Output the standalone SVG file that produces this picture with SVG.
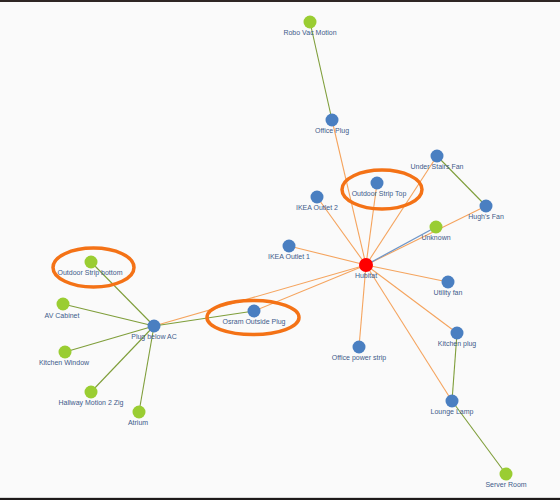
<svg xmlns="http://www.w3.org/2000/svg" width="560" height="500" viewBox="0 0 560 500">
<style>
.n circle{stroke:none}
.b{fill:#4a7fc1}
.g{fill:#9acd32}
.r{fill:#ff0000}
text{font-family:"Liberation Sans",Arial,sans-serif;font-size:7px;fill:#3e5a8a;text-anchor:middle}
.eo{stroke:#f5a45e;stroke-width:1.1;fill:none}
.eg{stroke:#7f9e3a;stroke-width:1.1;fill:none}
.eb{stroke:#6f96c8;stroke-width:1.3;fill:none}
.hl{fill:none;stroke:#f47216;stroke-width:3.5}
</style>
<rect x="0" y="0" width="560" height="500" fill="#fafafa"/>
<rect x="0" y="0" width="560" height="2" fill="#2e2624"/>
<rect x="0" y="497" width="560" height="1" fill="#d8d8d8"/>
<rect x="0" y="498" width="560" height="2" fill="#1e1a1a"/>
<g id="connectors">
<line class="eo" x1="366" y1="265" x2="332" y2="120"/>
<line class="eo" x1="366" y1="265" x2="377" y2="183"/>
<line class="eo" x1="366" y1="265" x2="317" y2="197"/>
<line class="eo" x1="366" y1="265" x2="437" y2="156"/>
<line class="eo" x1="366" y1="265" x2="486" y2="206"/>
<line class="eo" x1="366" y1="265" x2="289" y2="246"/>
<line class="eo" x1="366" y1="265" x2="448" y2="282"/>
<line class="eo" x1="366" y1="265" x2="457" y2="333"/>
<line class="eo" x1="366" y1="265" x2="452" y2="401"/>
<line class="eo" x1="366" y1="265" x2="359" y2="347"/>
<line class="eo" x1="366" y1="265" x2="154" y2="326"/>
<line class="eo" x1="366" y1="265" x2="254" y2="311"/>
<line class="eb" x1="366" y1="265" x2="436" y2="227"/>
<line class="eg" x1="310" y1="22" x2="332" y2="120"/>
<line class="eg" x1="437" y1="156" x2="486" y2="206"/>
<line class="eg" x1="91" y1="262" x2="154" y2="326"/>
<line class="eg" x1="63" y1="304" x2="154" y2="326"/>
<line class="eg" x1="65" y1="352" x2="154" y2="326"/>
<line class="eg" x1="91" y1="392" x2="154" y2="326"/>
<line class="eg" x1="139" y1="412" x2="154" y2="326"/>
<line class="eg" x1="154" y1="326" x2="254" y2="311"/>
<line class="eg" x1="457" y1="333" x2="452" y2="401"/>
<line class="eg" x1="452" y1="401" x2="506" y2="474"/>
</g>
<g id="robo-vac-motion" class="n"><circle class="g" cx="310" cy="22" r="6.5"/><text x="310" y="35">Robo Vac Motion</text></g>
<g id="office-plug" class="n"><circle class="b" cx="332" cy="120" r="6.5"/><text x="332" y="133">Office Plug</text></g>
<g id="under-stairs-fan" class="n"><circle class="b" cx="437" cy="156" r="6.5"/><text x="437" y="169">Under Stairs Fan</text></g>
<g id="outdoor-strip-top" class="n"><circle class="b" cx="377" cy="183" r="6.5"/><text x="379" y="196">Outdoor Strip Top</text></g>
<g id="ikea-outlet-2" class="n"><circle class="b" cx="317" cy="197" r="6.5"/><text x="317" y="210">IKEA Outlet 2</text></g>
<g id="hughs-fan" class="n"><circle class="b" cx="486" cy="206" r="6.5"/><text x="486" y="219">Hugh's Fan</text></g>
<g id="unknown" class="n"><circle class="g" cx="436" cy="227" r="6.5"/><text x="436" y="240">Unknown</text></g>
<g id="ikea-outlet-1" class="n"><circle class="b" cx="289" cy="246" r="6.5"/><text x="289" y="259">IKEA Outlet 1</text></g>
<g id="hubitat" class="n"><circle class="r" cx="366" cy="265" r="7"/><text x="366" y="278">Hubitat</text></g>
<g id="utility-fan" class="n"><circle class="b" cx="448" cy="282" r="6.5"/><text x="448" y="295">Utility fan</text></g>
<g id="outdoor-strip-bottom" class="n"><circle class="g" cx="91" cy="262" r="6.5"/><text x="90" y="275">Outdoor Strip bottom</text></g>
<g id="av-cabinet" class="n"><circle class="g" cx="63" cy="304" r="6.5"/><text x="62" y="318">AV Cabinet</text></g>
<g id="plug-below-ac" class="n"><circle class="b" cx="154" cy="326" r="6.5"/><text x="154" y="339">Plug below AC</text></g>
<g id="osram-outside-plug" class="n"><circle class="b" cx="254" cy="311" r="6.5"/><text x="254" y="324">Osram Outside Plug</text></g>
<g id="kitchen-window" class="n"><circle class="g" cx="65" cy="352" r="6.5"/><text x="64" y="365">Kitchen Window</text></g>
<g id="hallway-motion-2-zig" class="n"><circle class="g" cx="91" cy="392" r="6.5"/><text x="91" y="405">Hallway Motion 2 Zig</text></g>
<g id="atrium" class="n"><circle class="g" cx="139" cy="412" r="6.5"/><text x="138" y="425">Atrium</text></g>
<g id="office-power-strip" class="n"><circle class="b" cx="359" cy="347" r="6.5"/><text x="359" y="360">Office power strip</text></g>
<g id="kitchen-plug" class="n"><circle class="b" cx="457" cy="333" r="6.5"/><text x="457" y="346">Kitchen plug</text></g>
<g id="lounge-lamp" class="n"><circle class="b" cx="452" cy="401" r="6.5"/><text x="452" y="414">Lounge Lamp</text></g>
<g id="server-room" class="n"><circle class="g" cx="506" cy="474" r="6.5"/><text x="506" y="487">Server Room</text></g>
<g id="highlights">
<ellipse class="hl" cx="382" cy="189.5" rx="40" ry="19.5"/>
<ellipse class="hl" cx="93.5" cy="267.5" rx="40.5" ry="19.5"/>
<ellipse class="hl" cx="253" cy="317.5" rx="46" ry="17"/>
</g>
</svg>
